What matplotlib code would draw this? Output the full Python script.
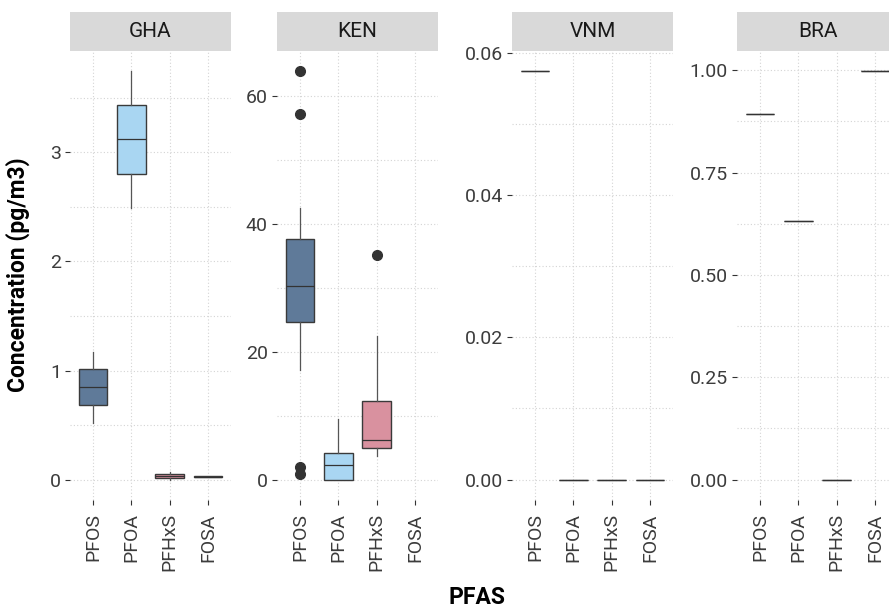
import matplotlib
matplotlib.use("Agg")
import matplotlib.pyplot as plt

plt.rcParams['font.family'] = ['Roboto', 'DejaVu Sans']

# categories
pfas = ["PFOS", "PFOA", "PFHxS", "FOSA"]
countries = ["GHA", "KEN", "VNM", "BRA"]
box_colors = ["#5f7a99", "#a9d6f2", "#d9919f", "#d9919f"]

# GHA box stats (pg/m3)
gha_whislo = [0.52, 2.49, 0.003, 0.027]
gha_q1 = [0.69, 2.80, 0.016, 0.027]
gha_med = [0.85, 3.12, 0.037, 0.030]
gha_q3 = [1.02, 3.43, 0.058, 0.032]
gha_whishi = [1.17, 3.74, 0.073, 0.032]
gha_fliers = [[], [], [], []]

# KEN box stats, no FOSA data
ken_whislo = [17.2, 0.0, 3.75, None]
ken_q1 = [24.6, 0.0, 5.0, None]
ken_med = [30.2, 2.3, 6.2, None]
ken_q3 = [37.6, 4.2, 12.3, None]
ken_whishi = [42.4, 9.5, 22.4, None]
ken_fliers = [[63.8, 57.1, 1.9, 0.9], [], [35.1], []]

# VNM and BRA: single measurements
vnm_value = [0.0574, 0.0, 0.0, 0.0]
bra_value = [0.893, 0.631, 0.0, 0.997]

gha_ticks = [0, 1, 2, 3]
ken_ticks = [0, 20, 40, 60]
vnm_ticks = [0.00, 0.02, 0.04, 0.06]
bra_ticks = [0.00, 0.25, 0.50, 0.75, 1.00]
tick_fmt = ["{:g}", "{:g}", "{:.2f}", "{:.2f}"]


def make_stats(lo, q1, med, q3, hi, fliers):
    stats = []
    pos = []
    for i in range(len(pfas)):
        if med[i] is None:
            continue
        stats.append(dict(whislo=lo[i], q1=q1[i], med=med[i], q3=q3[i],
                          whishi=hi[i], fliers=fliers[i]))
        pos.append(i + 1)
    return stats, pos


panels = [
    make_stats(gha_whislo, gha_q1, gha_med, gha_q3, gha_whishi, gha_fliers),
    make_stats(ken_whislo, ken_q1, ken_med, ken_q3, ken_whishi, ken_fliers),
    make_stats(vnm_value, vnm_value, vnm_value, vnm_value, vnm_value, [[]] * 4),
    make_stats(bra_value, bra_value, bra_value, bra_value, bra_value, [[]] * 4),
]
all_ticks = [gha_ticks, ken_ticks, vnm_ticks, bra_ticks]

W, H = 889, 612
fig = plt.figure(figsize=(W / 100, H / 100), dpi=100)
fig.patch.set_facecolor("white")


def px_axes(x0, y0, x1, y1):
    return fig.add_axes([x0 / W, 1 - y1 / H, (x1 - x0) / W, (y1 - y0) / H])


panel_left = [70, 277, 512, 737]
panel_w = 161
top, bottom, strip_top = 51, 500, 12
grid_kw = dict(color="#d4d4d4", linestyle=(0, (1, 2)), linewidth=0.8)

for k, (stats, pos) in enumerate(panels):
    x0 = panel_left[k]
    ax = px_axes(x0, top, x0 + panel_w, bottom)
    ax.set_facecolor("white")
    for s in ax.spines.values():
        s.set_visible(False)

    bp = ax.bxp(stats, positions=pos, widths=0.75, patch_artist=True,
                boxprops=dict(edgecolor="#3a3a3a", linewidth=1.0),
                whiskerprops=dict(color="#555555", linewidth=0.9),
                capprops=dict(linewidth=0),
                medianprops=dict(color="#333333", linewidth=0.9),
                flierprops=dict(marker="o", markerfacecolor="#333333",
                                markeredgecolor="#333333", markersize=7),
                zorder=3)
    for patch, p in zip(bp["boxes"], pos):
        patch.set_facecolor(box_colors[p - 1])

    # y range with 5% expansion, like the source
    vals = []
    for s in stats:
        vals += [s["whislo"], s["whishi"]] + list(s["fliers"])
    lo, hi = min(vals), max(vals)
    pad = (hi - lo) * 0.05
    ax.set_ylim(lo - pad, hi + pad)
    ax.set_xlim(0.4, 4.6)

    ticks = all_ticks[k]
    ax.set_yticks(ticks)
    ax.set_yticklabels([tick_fmt[k].format(t) for t in ticks])
    minors = [(a + b) / 2 for a, b in zip(ticks[:-1], ticks[1:])]
    step = ticks[1] - ticks[0]
    if ticks[-1] + step / 2 < hi + pad:
        minors.append(ticks[-1] + step / 2)
    ax.set_yticks(minors, minor=True)
    ax.set_xticks(range(1, 5))
    ax.set_xticklabels(pfas, rotation=90)

    ax.grid(True, which="both", axis="y", **grid_kw)
    ax.grid(True, which="major", axis="x", **grid_kw)
    ax.set_axisbelow(True)
    ax.tick_params(axis="both", which="major", length=3.6, width=0.8,
                   color="#333333", labelsize=14, labelcolor="#3c3c3c")
    ax.tick_params(axis="y", which="major", pad=3)
    ax.tick_params(axis="x", which="major", pad=6)
    ax.tick_params(axis="y", which="minor", length=0)

    # facet strip
    sax = px_axes(x0, strip_top, x0 + panel_w, top)
    sax.set_facecolor("#d9d9d9")
    sax.set_xticks([])
    sax.set_yticks([])
    for s in sax.spines.values():
        s.set_visible(False)
    sax.text(0.5, 0.5, countries[k], ha="center", va="center",
             fontsize=15, color="#1a1a1a", transform=sax.transAxes)

fig.text(18 / W, 1 - 275 / H, "Concentration (pg/m3)", rotation=90,
         ha="center", va="center", fontsize=16.5, fontweight="bold")
fig.text(477 / W, 1 - 598 / H, "PFAS", ha="center", va="center",
         fontsize=16.5, fontweight="bold")

fig.savefig("out.png", dpi=100)
